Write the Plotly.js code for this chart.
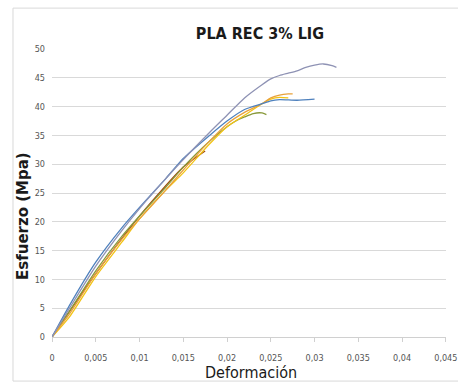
<!DOCTYPE html>
<html>
<head>
<meta charset="utf-8">
<script src="https://cdn.plot.ly/plotly-3.0.1.min.js"></script>
<style>html,body{margin:0;padding:0;background:#fff;}#chart{width:458px;height:385px;}</style>
</head>
<body>
<div id="chart"></div>
<script>
// Data
var strainA = [0, 0.002, 0.005, 0.008, 0.01, 0.013, 0.015, 0.018, 0.02, 0.022, 0.024, 0.025, 0.026, 0.027, 0.028, 0.029, 0.030, 0.031, 0.032, 0.0325];
var stressA = [0, 5, 12.3, 18.5, 22.3, 27.5, 30.8, 35.5, 38.5, 41.5, 43.8, 44.8, 45.4, 45.8, 46.2, 46.8, 47.2, 47.4, 47.1, 46.8];

var strainB = [0, 0.002, 0.005, 0.008, 0.01, 0.013, 0.015, 0.018, 0.02, 0.022, 0.024, 0.025, 0.026, 0.028, 0.03];
var stressB = [0, 5.5, 13, 19, 22.5, 27.5, 31, 35, 37.5, 39.5, 40.5, 41, 41.2, 41.1, 41.3];

var strainC = [0, 0.002, 0.005, 0.008, 0.01, 0.013, 0.015, 0.018, 0.02, 0.022, 0.024, 0.025, 0.026, 0.027, 0.0275];
var stressC = [0, 4, 11, 17, 20.5, 25.5, 29, 34, 37, 39, 40.5, 41.5, 42, 42.2, 42.2];

var strainD = [0, 0.002, 0.005, 0.008, 0.01, 0.013, 0.015, 0.018, 0.02, 0.022, 0.024, 0.025, 0.026, 0.027];
var stressD = [0, 3.5, 10.5, 16.5, 20.5, 25.5, 28.5, 33.5, 36.5, 38.5, 40.5, 41.3, 41.6, 41.5];

var strainE = [0, 0.002, 0.005, 0.008, 0.01, 0.013, 0.015, 0.018, 0.02, 0.021, 0.022, 0.023, 0.024, 0.0245];
var stressE = [0, 4.5, 11.5, 17.5, 21, 26, 29.5, 34, 36.5, 37.5, 38.2, 38.8, 38.9, 38.6];

var strainF = [0, 0.005, 0.01, 0.015, 0.0175];
var stressF = [0, 11, 21, 29.5, 32.3];

var xTickVals = [0, 0.005, 0.01, 0.015, 0.02, 0.025, 0.03, 0.035, 0.04, 0.045];
var xTickText = ["0", "0,005", "0,01", "0,015", "0,02", "0,025", "0,03", "0,035", "0,04", "0,045"];
var yTickVals = [0, 5, 10, 15, 20, 25, 30, 35, 40, 45, 50];

var series = [
  {x: strainF, y: stressF, color: '#9E480E'},
  {x: strainE, y: stressE, color: '#8A9A3C'},
  {x: strainD, y: stressD, color: '#F2C314'},
  {x: strainC, y: stressC, color: '#E9A23B'},
  {x: strainB, y: stressB, color: '#4F81BD'},
  {x: strainA, y: stressA, color: '#8E92B4'}
];

var traces = series.map(function(s){
  return {x: s.x, y: s.y, type: 'scatter', mode: 'lines', line: {color: s.color, width: 1.3, shape: 'spline', smoothing: 0.6}, hoverinfo: 'skip'};
});

var narrow = "'DejaVu Sans Condensed', 'Liberation Sans Narrow', 'Arial Narrow', sans-serif";

var layout = {
  width: 458, height: 385,
  margin: {l: 52, r: 12, t: 49, b: 48},
  paper_bgcolor: '#fff', plot_bgcolor: '#fff',
  showlegend: false,
  title: {text: '<b>PLA REC 3% LIG</b>', x: 0.5675, xanchor: 'center', y: 0.913, yanchor: 'middle',
          font: {family: narrow, size: 16, color: '#1a1a1a'}},
  xaxis: {range: [0, 0.04502], tickvals: xTickVals, ticktext: xTickText, showgrid: false, zeroline: false,
          showline: true, linecolor: '#d0d0d0', ticks: 'outside', ticklen: 4, tickcolor: '#d0d0d0',
          ticklabelstandoff: 8,
          tickfont: {family: narrow, size: 9, color: '#555'}},
  yaxis: {range: [0, 50], tickvals: yTickVals, showgrid: true, gridcolor: '#d9d9d9', gridwidth: 1, zeroline: false,
          showline: false, ticks: '', ticklabelstandoff: 6, tickfont: {family: narrow, size: 9, color: '#555'}},
  annotations: [
    {text: 'Deformación', xref: 'paper', yref: 'paper', x: (251 - 52) / 394, y: (337 - 372) / 288,
     xanchor: 'center', yanchor: 'middle', showarrow: false, font: {family: narrow, size: 16, color: '#1a1a1a'}},
    {text: '<b>Esfuerzo (Mpa)</b>', xref: 'paper', yref: 'paper', x: (23 - 52) / 394, y: (337 - 216) / 288,
     xanchor: 'center', yanchor: 'middle', textangle: -90, showarrow: false,
     font: {family: "'DejaVu Sans', Arial, sans-serif", size: 15, color: '#1a1a1a'}}
  ],
  shapes: [{type: 'rect', xref: 'paper', yref: 'paper', x0: -0.099, x1: 1.06, y0: -0.153, y1: 1.142,
            line: {color: '#d9d9d9', width: 1}, fillcolor: 'rgba(0,0,0,0)'}]
};

Plotly.newPlot('chart', traces, layout, {staticPlot: true, displayModeBar: false});
</script>
</body>
</html>
